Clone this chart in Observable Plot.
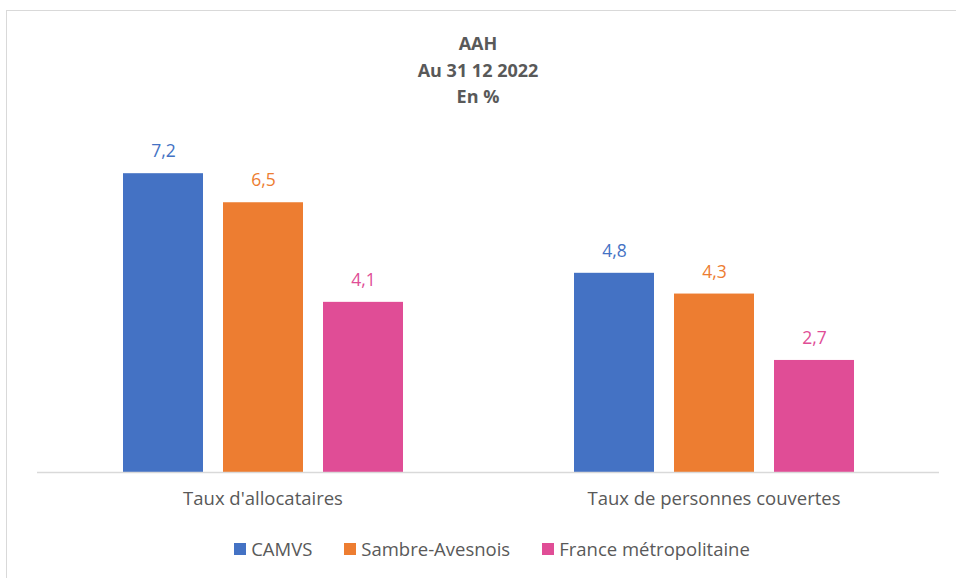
<!DOCTYPE html>
<html><head><meta charset="utf-8">
<script src="https://cdn.jsdelivr.net/npm/d3@7"></script>
<script src="https://cdn.jsdelivr.net/npm/@observablehq/plot@0.6"></script>
<style>
body{margin:0;background:#fff;font-family:"Open Sans",sans-serif;}
#wrap{position:relative;width:956px;height:578px;overflow:hidden;}
#frame{position:absolute;left:6px;top:10px;width:960px;height:580px;border:1.5px solid #d9d9d9;box-sizing:border-box;}
#title{position:absolute;left:0;width:956px;top:30px;text-align:center;color:#595959;font-weight:bold;font-size:18px;line-height:26.5px;}
#legend{position:absolute;top:537px;left:14px;width:956px;display:flex;justify-content:center;color:#595959;font-size:18.5px;line-height:24px;}
#legend span.it{display:flex;align-items:center;margin:0 16px;}
#legend i{display:inline-block;width:12px;height:12px;margin-right:5px;}
#chart{position:absolute;left:0;top:0;}
</style></head>
<body><div id="wrap"><div id="frame"></div><div id="chart"></div>
<div id="title">AAH<br>Au 31 12 2022<br>En %</div>
<div id="legend"></div></div>
<script>
const categories = ["Taux d'allocataires", "Taux de personnes couvertes"];
const series = ["CAMVS", "Sambre-Avesnois", "France métropolitaine"];
const camvs = [7.2, 4.8];
const sambre = [6.5, 4.3];
const france = [4.1, 2.7];
const colors = ["#4472C4", "#ED7D31", "#E04D96"];

const values = [camvs, sambre, france];
const data = [];
categories.forEach((c, i) => series.forEach((s, j) => data.push({cat: c, serie: s, value: values[j][i]})));
const fmt = v => v.toFixed(1).replace(".", ",");

const plot = Plot.plot({
  width: 956, height: 578,
  marginTop: 140, marginBottom: 106, marginLeft: 37, marginRight: 17,
  style: {fontFamily: "Open Sans, sans-serif", background: "transparent"},
  fx: {domain: categories, padding: 0, label: null},
  x: {domain: series, paddingInner: 0.2, paddingOuter: 0.855, axis: null},
  y: {domain: [0, 8], axis: null},
  color: {domain: series, range: colors},
  marks: [
    Plot.barY(data, {fx: "cat", x: "serie", y: "value", fill: "serie"}),
    Plot.text(data, {fx: "cat", x: "serie", y: "value", text: d => fmt(d.value), fill: "serie", dy: -22, fontSize: 17.5}),
    Plot.ruleY([0], {stroke: "#d9d9d9", strokeWidth: 1.5}),
    Plot.axisFx({anchor: "bottom", tickSize: 0, tickPadding: 19, fontSize: 18.5, color: "#595959", label: null})
  ]
});
document.getElementById("chart").appendChild(plot);
plot.querySelectorAll('[aria-label="fx-axis tick label"] text').forEach(t => t.setAttribute("fill", "#595959"));

const leg = document.getElementById("legend");
series.forEach((s, j) => {
  const sp = document.createElement("span"); sp.className = "it";
  sp.innerHTML = `<i style="background:${colors[j]}"></i>${s}`;
  leg.appendChild(sp);
});
</script></body></html>
